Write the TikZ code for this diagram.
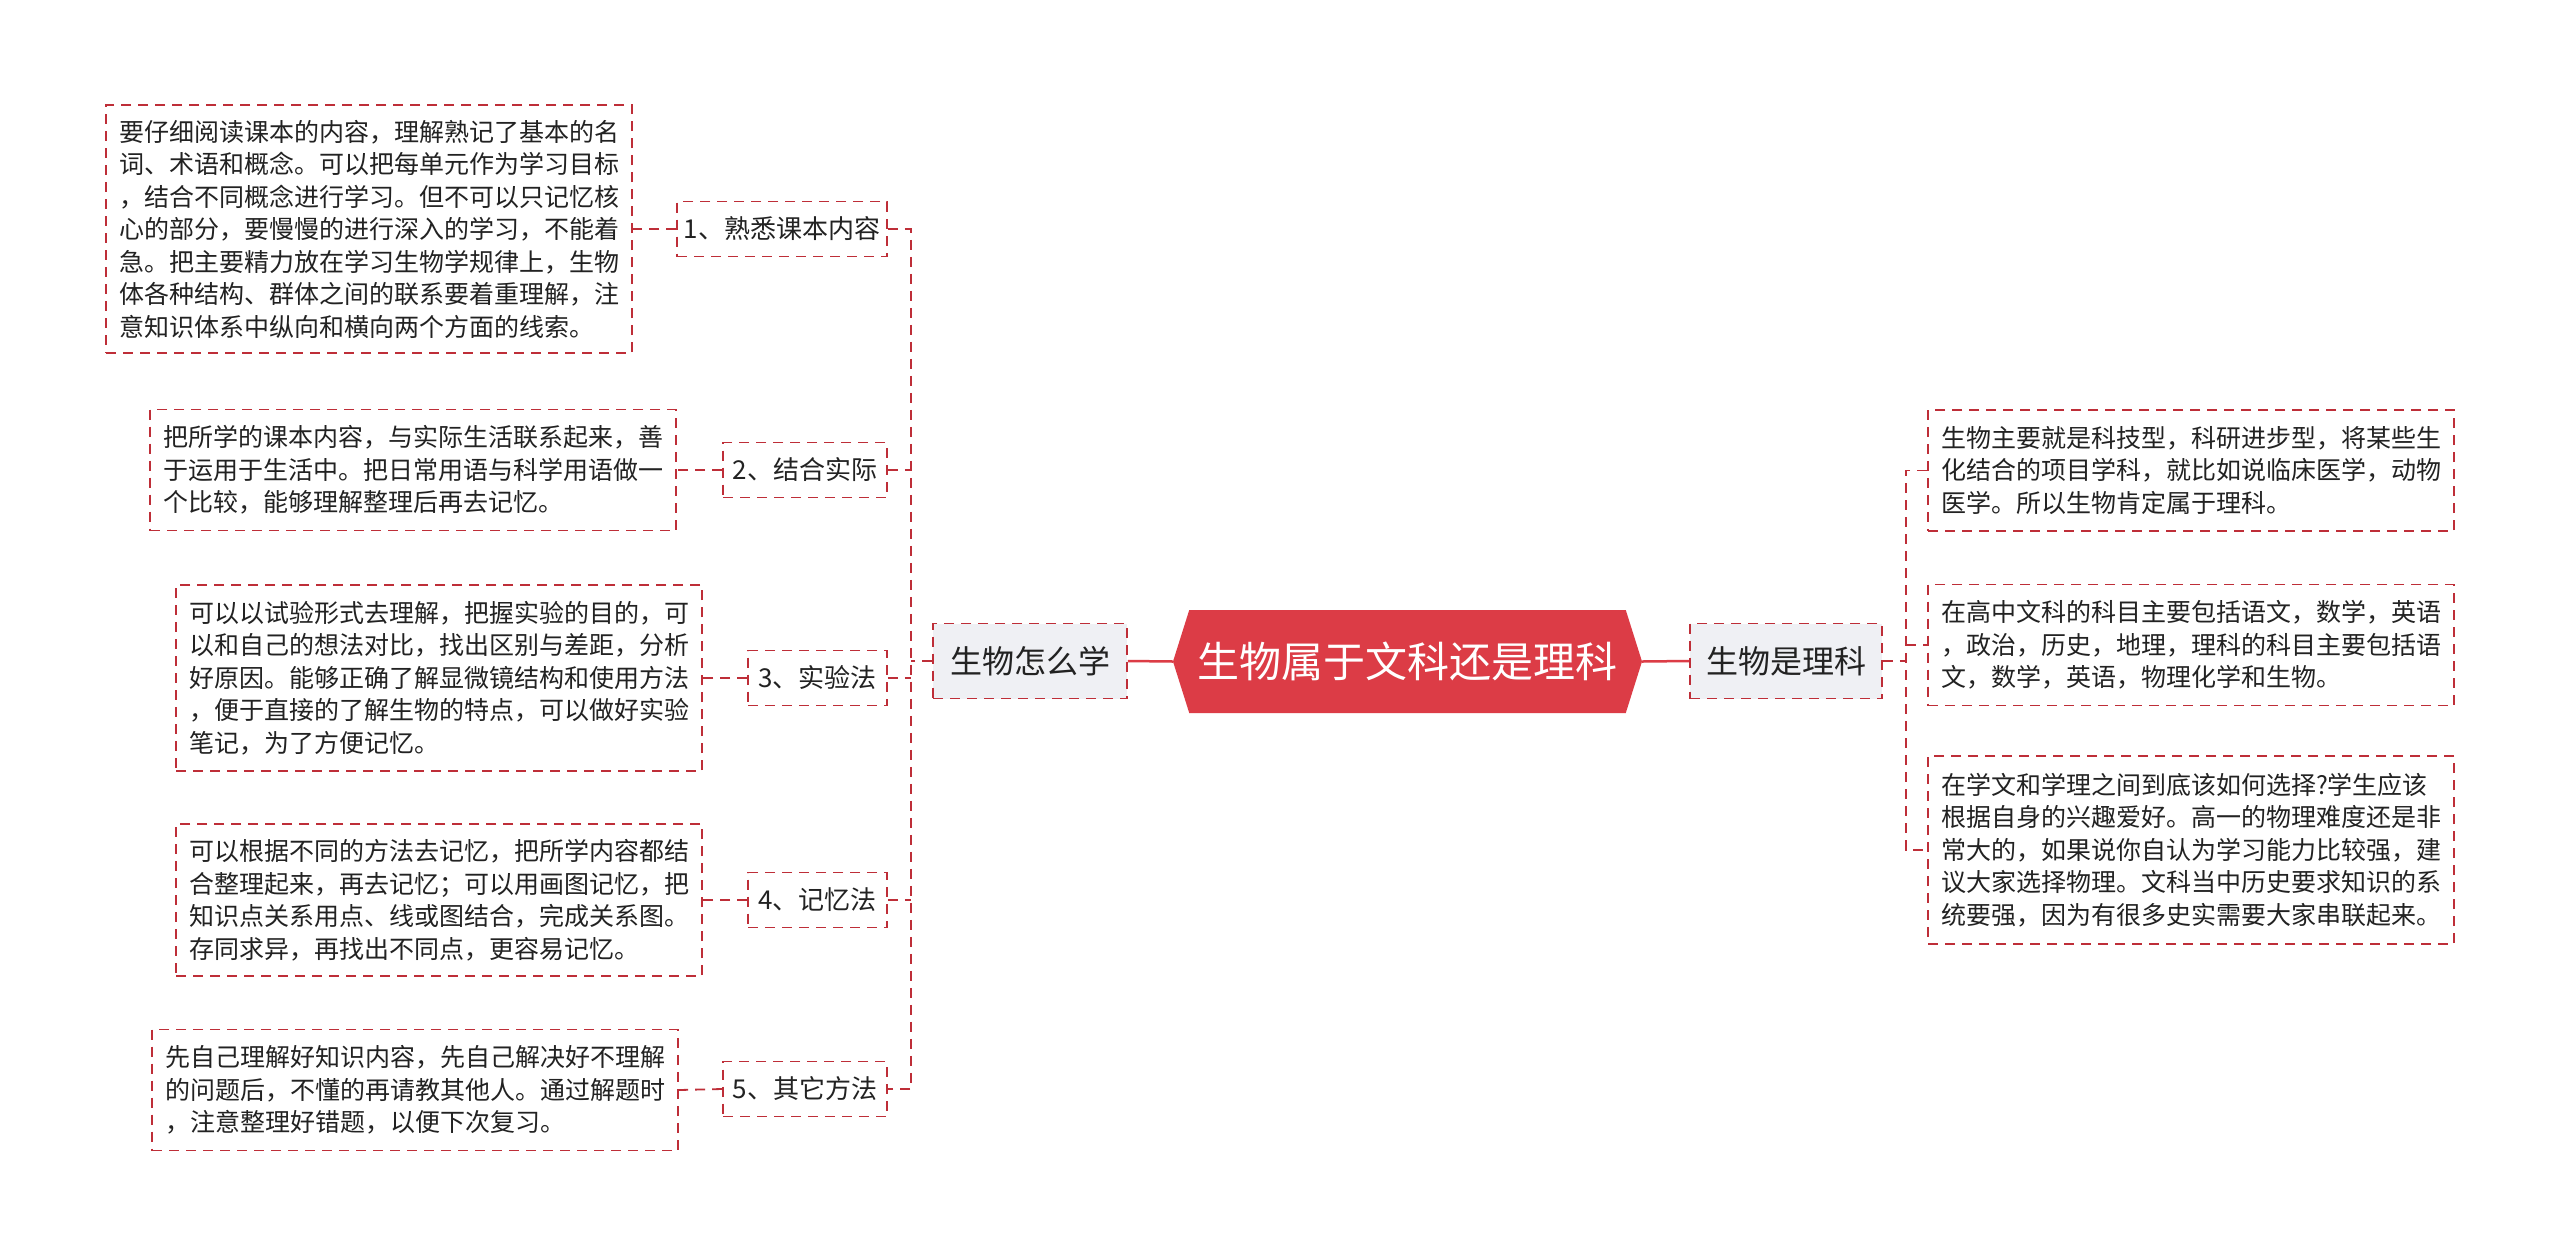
\documentclass[tikz,border=0pt]{standalone}
\usepackage{fontspec}
\newfontfamily\cjk{Noto Sans CJK SC}
\usetikzlibrary{shapes.symbols}
\definecolor{rootred}{HTML}{DC3C46}
\definecolor{linered}{HTML}{BE2E38}
\definecolor{boxgray}{HTML}{EFF0F4}
\definecolor{txt}{HTML}{222222}
\begin{document}
\begin{tikzpicture}[x=1pt,y=-1pt,
  dashline/.style={draw=linered, line width=1.8pt, dash pattern=on 10pt off 7pt},
  rootbox/.style={signal, signal to=west and east, signal pointer angle=145, fill=rootred, text=white, font=\cjk\fontsize{42}{50}\selectfont, minimum width=469pt, minimum height=103pt, inner sep=0pt},
  topicbox/.style={dashline, fill=boxgray, text=txt, font=\cjk\fontsize{32}{38}\selectfont, minimum width=194pt, minimum height=75pt, inner sep=0pt},
  subbox/.style={dashline, fill=white, text=txt, font=\cjk\fontsize{26}{31}\selectfont, minimum height=55pt, inner sep=0pt},
  leafbox/.style={dashline, fill=white, text=txt, font=\cjk\fontsize{25}{32.5}\selectfont, text width=500pt, align=left, inner xsep=13pt, inner ysep=0pt},
  solidlink/.style={draw=rootred, line width=2.5pt},
  dashlink/.style={dashline}
]
\useasboundingbox[fill=white] (0,0) rectangle (2560,1259);

% root and topics
\node[rootbox] (root) at (1407.5,661.5) {生物属于文科还是理科};
\node[topicbox] (learn) at (1030,661) {生物怎么学};
\node[topicbox, minimum width=192pt] (sci) at (1786,661) {生物是理科};

% left sub nodes
\node[subbox, minimum width=210pt] (n1) at (782,229) {1、熟悉课本内容};
\node[subbox, minimum width=164pt] (n2) at (805,470) {2、结合实际};
\node[subbox, minimum width=139pt] (n3) at (817.5,678) {3、实验法};
\node[subbox, minimum width=139pt] (n4) at (817.5,900) {4、记忆法};
\node[subbox, minimum width=164pt] (n5) at (805,1089) {5、其它方法};

% left leaves
\node[leafbox, minimum height=248pt] (l1) at (369,229) {要仔细阅读课本的内容，理解熟记了基本的名\\
词、术语和概念。可以把每单元作为学习目标\\
，结合不同概念进行学习。但不可以只记忆核\\
心的部分，要慢慢的进行深入的学习，不能着\\
急。把主要精力放在学习生物学规律上，生物\\
体各种结构、群体之间的联系要着重理解，注\\
意知识体系中纵向和横向两个方面的线索。};
\node[leafbox, minimum height=121pt] (l2) at (413,470) {把所学的课本内容，与实际生活联系起来，善\\
于运用于生活中。把日常用语与科学用语做一\\
个比较，能够理解整理后再去记忆。};
\node[leafbox, minimum height=186pt] (l3) at (439,678) {可以以试验形式去理解，把握实验的目的，可\\
以和自己的想法对比，找出区别与差距，分析\\
好原因。能够正确了解显微镜结构和使用方法\\
，便于直接的了解生物的特点，可以做好实验\\
笔记，为了方便记忆。};
\node[leafbox, minimum height=152pt] (l4) at (439,900) {可以根据不同的方法去记忆，把所学内容都结\\
合整理起来，再去记忆；可以用画图记忆，把\\
知识点关系用点、线或图结合，完成关系图。\\
存同求异，再找出不同点，更容易记忆。};
\node[leafbox, minimum height=121pt] (l5) at (415,1090) {先自己理解好知识内容，先自己解决好不理解\\
的问题后，不懂的再请教其他人。通过解题时\\
，注意整理好错题，以便下次复习。};

% right leaves
\node[leafbox, minimum height=121pt] (r1) at (2191,470.5) {生物主要就是科技型，科研进步型，将某些生\\
化结合的项目学科，就比如说临床医学，动物\\
医学。所以生物肯定属于理科。};
\node[leafbox, minimum height=121pt] (r2) at (2191,645) {在高中文科的科目主要包括语文，数学，英语\\
，政治，历史，地理，理科的科目主要包括语\\
文，数学，英语，物理化学和生物。};
\node[leafbox, minimum height=188pt] (r3) at (2191,850) {在学文和学理之间到底该如何选择?学生应该\\
根据自身的兴趣爱好。高一的物理难度还是非\\
常大的，如果说你自认为学习能力比较强，建\\
议大家选择物理。文科当中历史要求知识的系\\
统要强，因为有很多史实需要大家串联起来。};

% connectors
\draw[solidlink] (root.west) -- (learn.east);
\draw[solidlink] (root.east) -- (sci.west);

\coordinate (lt) at (911,661);
\draw[dashlink] (learn.west) -- (lt);
\draw[dashlink] (n1.east) -- (n1.east -| lt) -- (n5.east -| lt) -- (n5.east);
\draw[dashlink] (n2.east) -- (n2.east -| lt);
\draw[dashlink] (n3.east) -- (n3.east -| lt);
\draw[dashlink] (n4.east) -- (n4.east -| lt);
\draw[dashlink] (n1.west) -- (l1.east);
\draw[dashlink] (n2.west) -- (l2.east);
\draw[dashlink] (n3.west) -- (l3.east);
\draw[dashlink] (n4.west) -- (l4.east);
\draw[dashlink] (n5.west) -- (l5.east);

\coordinate (rt) at (1906,661);
\draw[dashlink] (sci.east) -- (rt);
\draw[dashlink] (r1.west) -- (r1.west -| rt) -- (r3.west -| rt) -- (r3.west);
\draw[dashlink] (r2.west -| rt) -- (r2.west);
\end{tikzpicture}
\end{document}
